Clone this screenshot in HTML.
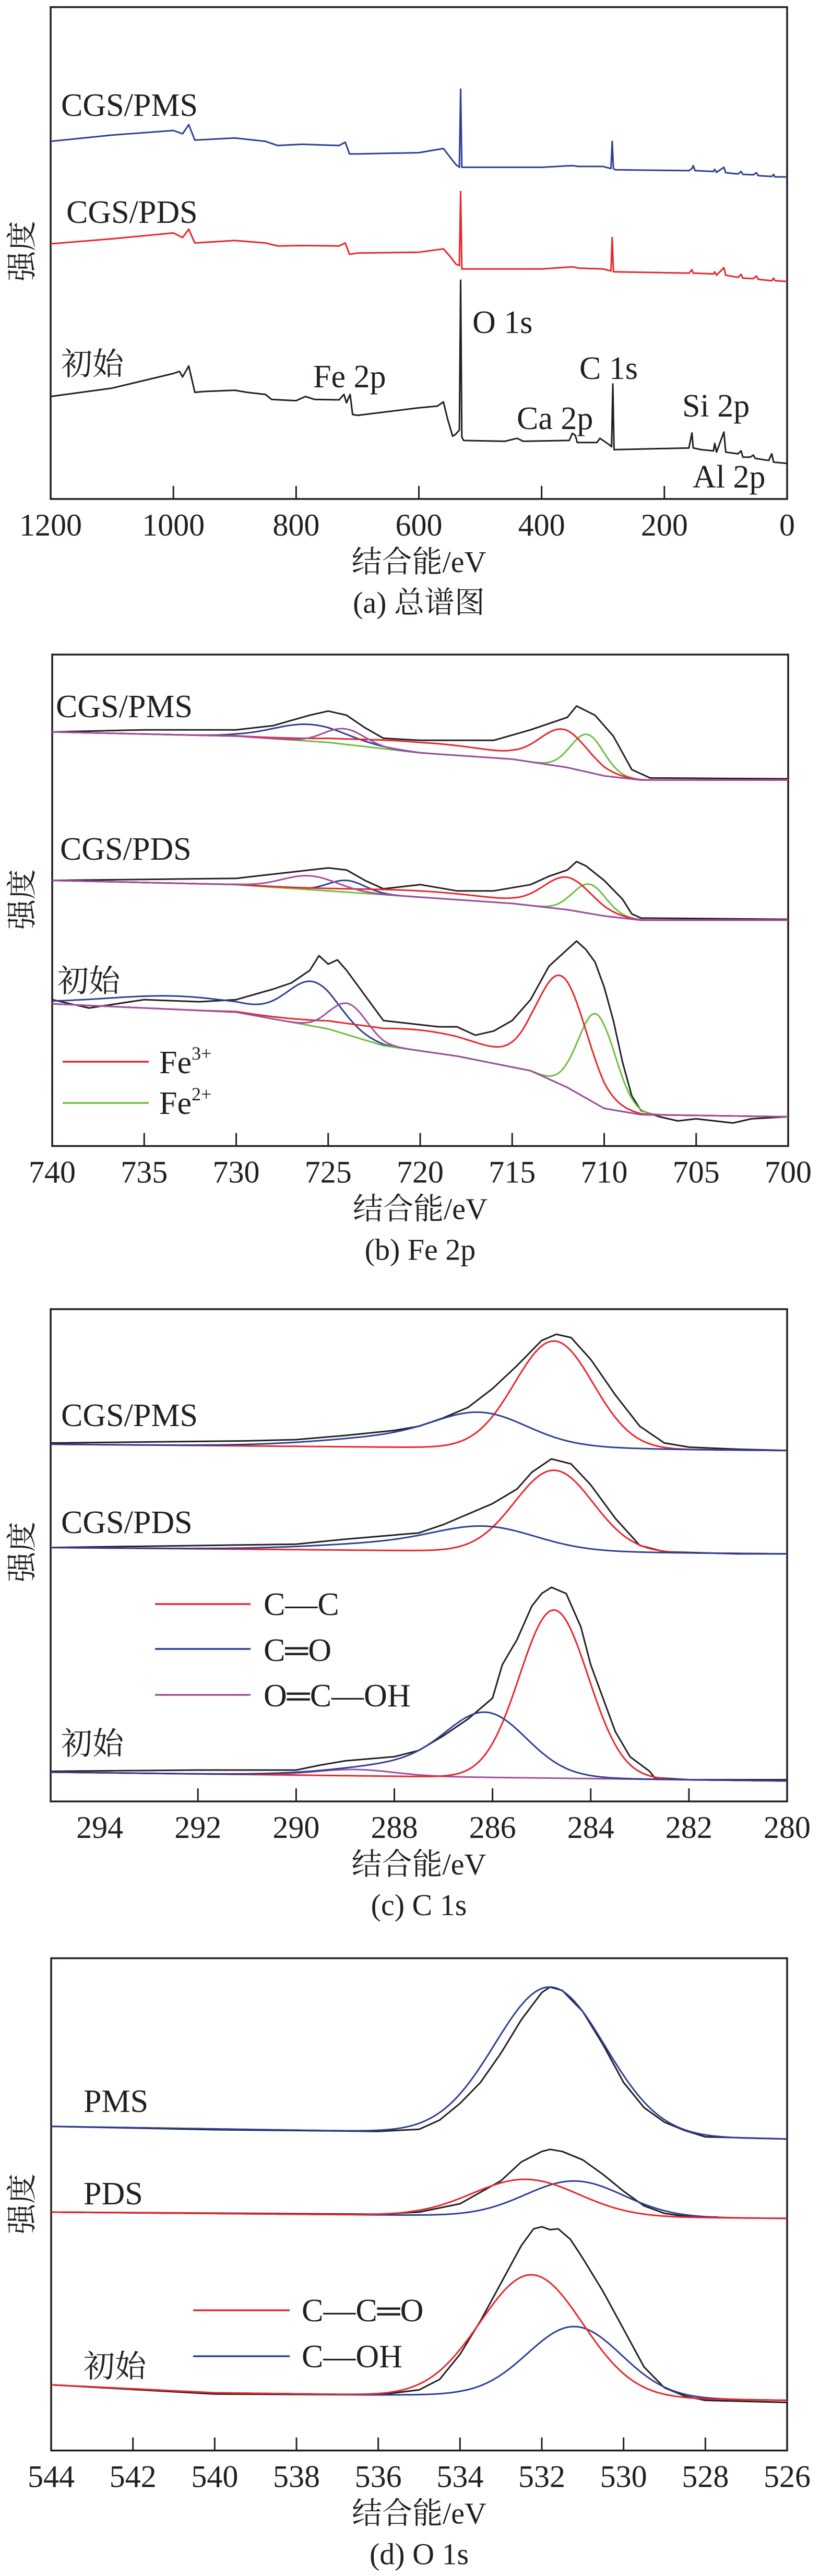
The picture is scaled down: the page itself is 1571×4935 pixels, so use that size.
<!DOCTYPE html>
<html><head><meta charset="utf-8">
<style>
html,body{margin:0;padding:0;background:#fff;}
svg{display:block;}
text{font-family:"Liberation Serif","Noto Serif CJK SC",serif;fill:#231f20;}
</style></head>
<body>
<svg id="fig" width="1571" height="4935" viewBox="0 0 1571 4935" xmlns="http://www.w3.org/2000/svg"></svg>
<script>
// ---------- Panel (a) survey data: [binding energy eV, intensity] ----------
const surveyPMS=[[1200,855],[1100,870],[1000,881],[985,873],[975,895],[965,858],[900,863],[850,855],[830,845],[790,848],[730,845],[720,853],[713,825],[700,825],[600,828],[560,838],[548,815],[540,800],[534,793],[532,980],[530,793],[528,793],[400,793],[350,797],[340,795],[300,795],[287,790],[285,855],[283,790],[280,787],[160,785],[155,790],[153,797],[150,785],[120,783],[118,788],[115,781],[103,793],[100,780],[80,777],[75,783],[72,776],[55,775],[50,780],[47,773],[25,771],[22,776],[20,770],[0,770]];
const surveyPDS=[[1200,610],[1100,622],[1000,636],[985,625],[975,645],[965,612],[900,618],[850,612],[830,605],[790,606],[730,605],[720,612],[713,585],[700,588],[600,590],[560,598],[548,578],[540,562],[534,558],[532,735],[530,550],[528,550],[400,550],[350,555],[340,552],[300,550],[287,545],[285,625],[283,543],[280,543],[160,540],[155,548],[153,540],[120,538],[118,543],[115,535],[103,553],[100,535],[80,530],[75,537],[72,528],[55,527],[50,533],[47,525],[25,522],[22,528],[20,522],[0,520]];
const surveyInit=[[1200,245],[1100,265],[1000,300],[990,305],[985,292],[975,318],[965,255],[950,257],[900,260],[880,255],[850,250],[840,238],[800,235],[785,245],[770,238],[730,237],[722,250],[718,230],[712,250],[708,202],[700,200],[600,218],[570,222],[560,232],[553,190],[545,150],[540,155],[534,165],[532,523],[530,148],[527,140],[460,138],[440,145],[430,138],[355,140],[350,157],[345,152],[342,135],[310,135],[305,145],[290,130],[286,125],[284,275],[282,118],[280,118],[160,122],[155,158],[153,122],[140,118],[120,115],[118,133],[115,112],[103,160],[100,112],[80,108],[75,115],[72,100],[60,100],[55,105],[52,97],[30,92],[25,108],[22,88],[0,85]];
const ticksA=[1200,1000,800,600,400,200,0];

// ---------- Panel (b) Fe 2p ----------
const feBlackPMS=[[740,990],[735,995],[730,995],[728,1005],[726,1030],[725,1040],[724,1030],[723,1000],[722,975],[720,970],[716,970],[714,995],[712,1025],[711.5,1052],[710.5,1030],[709.5,980],[708.5,900],[707.5,880],[700,878]];
const feBgPMS=[[740,990],[730,980],[725,965],[720,940],[715,925],[712,905],[710,885],[708,875],[700,875]];
const feBlackPDS=[[740,635],[730,640],[727,655],[725,665],[724,660],[723,635],[722,615],[720,625],[718,610],[716,610],[714,625],[713,645],[712,660],[711.5,680],[711,670],[710,635],[709,590],[708.5,555],[708,545],[700,542]];
const feBgPDS=[[740,635],[730,625],[725,610],[720,595],[715,580],[712,565],[710,550],[708,540],[700,540]];
const feBlackInit=[[740,350],[738,330],[735,350],[732,345],[730,350],[728,375],[727,390],[726,420],[725.5,455],[725,435],[724.5,445],[724,420],[723.5,390],[723,360],[722.5,330],[722,300],[721,295],[720,290],[719,285],[718,285],[717,265],[716,275],[715,300],[714,350],[713.5,390],[713,430],[712.5,450],[712,470],[711.5,490],[711,470],[710.5,440],[710,380],[709.5,300],[709,200],[708.5,120],[708,85],[707,70],[706,60],[705,65],[703,55],[702,65],[700,70]];
const feBgInit=[[740,340],[730,320],[725,280],[722,240],[718,215],[714,180],[712,140],[710,90],[708,75],[700,70]];
// peaks: [center eV, amplitude, sigma]
const fe3PMS=[[712.2,85,1.3],[719.5,25,4]], fe2PMS=[[710.9,90,0.9]], feBluePMS=[[726,40,2]], fePurpPMS=[[724.1,37,1.1]];
const fe3PDS=[[712,75,1.3],[719.5,15,4]], fe2PDS=[[710.8,70,0.9]], feBluePDS=[[724,28,1.0]], fePurpPDS=[[726,33,1.5]];
const fe3Init=[[712.3,250,1.35],[719.5,50,4]], fe2Init=[[710.4,215,1.0]], feBlueInit=[[725.8,100,1.4],[733,32,4]], fePurpInit=[[723.9,75,1.0]];
const ticksB=[740,735,730,725,720,715,710,705,700];

// ---------- Panel (c) C 1s ----------
const cBlackPMS=[[295,857],[291,862],[290,865],[289,875],[288,887],[287.5,897],[287,917],[286.5,942],[286,987],[285.5,1042],[285,1102],[284.7,1117],[284.4,1109],[284,1057],[283.5,972],[283,897],[282.5,857],[282,847],[281,842],[280,839]];
const cBgPMS=[[295,854],[280,839]];
const cBlackPDS=[[295,607],[290,615],[289,627],[288,637],[287.5,642],[287,662],[286.5,687],[286,712],[285.5,747],[285.2,787],[284.8,819],[284.4,807],[284,757],[283.5,677],[283,612],[282.5,597],[281,592],[280,592]];
const cBgPDS=[[295,607],[280,592]];
const cBlackInit=[[295,72],[292,75],[290,75],[289.5,87],[289,97],[288,107],[287.5,122],[287,157],[286.5,197],[286,247],[285.8,327],[285.5,387],[285.2,467],[285,497],[284.8,512],[284.5,497],[284.2,417],[284,327],[283.5,167],[283.2,107],[282.8,72],[282.7,57],[282,52],[280,52]];
const cBgInit=[[295,70],[280,49]];
const ccPMS=[[284.75,257,0.8]], coPMS=[[286.2,60,0.9],[287.3,30,1.8]];
const ccPDS=[[284.75,195,0.8]], coPDS=[[286.1,45,1.0],[287.5,20,1.8]];
const ccInit=[[284.75,402,0.7]], coInit=[[286.1,130,0.8],[287.3,35,1.5]], oocInit=[[288.8,15,0.8]];
const ticksC=[294,292,290,288,286,284,282,280];

// ---------- Panel (d) O 1s ----------
const oBlackPMS=[[544,775],[540,767],[536,763],[535,768],[534.5,790],[534,830],[533.5,880],[533,950],[532.5,1030],[532,1095],[531.8,1108],[531.5,1100],[531,1050],[530.5,970],[530,880],[529.5,820],[529,785],[528.5,765],[528,750],[526,745]];
const oBgPMS=[[544,775],[536,763],[528,748],[526,745]];
const oBlackPDS=[[544,570],[536,565],[535,570],[534,590],[533,645],[532.5,690],[532,715],[531.8,720],[531.5,715],[531,695],[530.5,660],[530,620],[529.5,585],[529,567],[528.5,560],[527.7,558]];
const oBgPDS=[[544,570],[526,555]];
const oBlackInit=[[544,157],[540,135],[536,133],[535,145],[534.5,170],[534,230],[533.5,310],[533,400],[532.5,490],[532.2,530],[532,535],[531.8,528],[531.6,530],[531.3,505],[531,460],[530.5,380],[530,290],[529.5,200],[529,150],[528.5,130],[528,120],[526,115]];
const oBgInit=[[544,157],[540,138],[536,133],[534,133],[528,123],[526,120]];
const ohPMS=[[531.8,353,1.35]];
const ccoPDS=[[532.4,88,1.3]], ohPDS=[[531.2,85,1.2]];
const ccoInit=[[532.25,290,1.25]], ohInit=[[531.2,168,1.15]];
const ticksD=[544,542,540,538,536,534,532,530,528,526];

const C={k:'#231f20',r:'#e8262a',b:'#2e3f96',g:'#6bbf3f',p:'#a04fa0'};
const NS='http://www.w3.org/2000/svg';
const svg=document.getElementById('fig');
function mk(tag,attrs,parent){const e=document.createElementNS(NS,tag);for(const k in attrs)e.setAttribute(k,attrs[k]);(parent||svg).appendChild(e);return e;}

function makeAxes(p){
  p.x=v=>p.x0+(p.emax-v)/(p.emax-p.emin)*(p.x1-p.x0);
  p.y=v=>p.off+(p.zb-v)/1.248;
  return p;
}
function interp(arr,e){
  for(let i=0;i<arr.length-1;i++){const a=arr[i],b=arr[i+1];const lo=Math.min(a[0],b[0]),hi=Math.max(a[0],b[0]);
    if(e>=lo&&e<=hi){const t=(e-a[0])/(b[0]-a[0]||1);return a[1]+t*(b[1]-a[1]);}}
  return e>Math.max(arr[0][0],arr[arr.length-1][0])?(arr[0][0]>arr[arr.length-1][0]?arr[0][1]:arr[arr.length-1][1]):(arr[0][0]<arr[arr.length-1][0]?arr[0][1]:arr[arr.length-1][1]);
}
function lineFromPoints(p,pts,color,name,w){
  const d=pts.map((q,i)=>(i?'L':'M')+p.x(q[0]).toFixed(1)+','+p.y(q[1]).toFixed(1)).join('');
  const el=mk('path',{d:d,fill:'none',stroke:color,'stroke-width':w||3,'stroke-linejoin':'round'},p.g);
  
  
  return el;
}
function component(p,bg,peaks,color,name,emin,emax){
  const pts=[];const lo=emin!==undefined?emin:p.emin,hi=emax!==undefined?emax:p.emax;
  const step=(p.emax-p.emin)/700;
  for(let e=hi;e>=lo-1e-9;e-=step){let v=interp(bg,e);for(const pk of peaks)v+=pk[1]*Math.exp(-Math.pow(e-pk[0],2)/(2*pk[2]*pk[2]));pts.push([e,v]);}
  return lineFromPoints(p,pts,color,name,3);
}
function txt(p,x,y,s,size,name,anchor){
  const t=mk('text',{x:x,y:y,'font-size':size,'text-anchor':anchor||'start'},p.g);
  t.textContent=s;
  
  
  return t;
}
function frame(p,ticks,tickFmt,caption,ylabelY){
  const top=p.off+p.zt/1.248,bot=p.off+p.zb/1.248;
  const r=mk('rect',{x:p.x0,y:top,width:p.x1-p.x0,height:bot-top,fill:'none',stroke:C.k,'stroke-width':3.5},p.g);
  
  
  ticks.forEach((t,i)=>{
    const X=p.x(t);
    if(i>0&&i<ticks.length-1){const l=mk('line',{x1:X,x2:X,y1:bot,y2:bot-25,stroke:C.k,'stroke-width':3},p.g);
      
      }
    txt(p,X,bot+70,tickFmt(t),60,'x-tick-label','middle');
  });
  txt(p,(p.x0+p.x1)/2,bot+140,'结合能/eV',58,'x-axis-title','middle');
  txt(p,(p.x0+p.x1)/2,bot+218,caption,58,'panel-caption','middle');
  const yl=txt(p,0,0,'强度',58,'y-axis-title','middle');
  yl.setAttribute('transform','translate(62,'+ylabelY+') rotate(-90)');
}
function group(name){const g=mk('g',{});return g;}

// ===== Panel a =====
const pa=makeAxes({g:group('panel-a-survey'),off:0,zt:17,zb:1193,x0:97,x1:1508,emax:1200,emin:0});
frame(pa,ticksA,String,'(a) 总谱图',481);
lineFromPoints(pa,surveyPMS,C.b,'survey-cgs-pms-line',3);
lineFromPoints(pa,surveyPDS,C.r,'survey-cgs-pds-line',3);
lineFromPoints(pa,surveyInit,C.k,'survey-initial-line',3);
txt(pa,117,222,'CGS/PMS',62,'label-cgs-pms');
txt(pa,127,427,'CGS/PDS',62,'label-cgs-pds');
txt(pa,117,718,'初始',60,'label-initial');
txt(pa,905,638,'O 1s',62,'peak-label-o1s');
txt(pa,600,742,'Fe 2p',62,'peak-label-fe2p');
txt(pa,1110,726,'C 1s',62,'peak-label-c1s');
txt(pa,990,822,'Ca 2p',62,'peak-label-ca2p');
txt(pa,1307,798,'Si 2p',62,'peak-label-si2p');
txt(pa,1327,934,'Al 2p',62,'peak-label-al2p');

// ===== Panel b =====
const pb=makeAxes({g:group('panel-b-fe2p'),off:1250,zt:5,zb:1180,x0:100,x1:1510,emax:740,emin:700});
frame(pb,ticksB,String,'(b) Fe 2p',1723);
[[feBgPMS,fe3PMS,fe2PMS,feBluePMS,fePurpPMS,feBlackPMS,'pms'],[feBgPDS,fe3PDS,fe2PDS,feBluePDS,fePurpPDS,feBlackPDS,'pds'],[feBgInit,fe3Init,fe2Init,feBlueInit,fePurpInit,feBlackInit,'initial']].forEach(s=>{
  lineFromPoints(pb,s[5],C.k,'fe-raw-'+s[6],3);
  component(pb,s[0],s[3],C.b,'fe-blue-fit-'+s[6]);
  component(pb,s[0],s[2],C.g,'fe2-fit-'+s[6]);
  component(pb,s[0],s[1],C.r,'fe3-fit-'+s[6]);
  component(pb,s[0],s[4],C.p,'fe-purple-fit-'+s[6]);
});
txt(pb,107,1374,'CGS/PMS',62,'label-cgs-pms');
txt(pb,115,1647,'CGS/PDS',62,'label-cgs-pds');
txt(pb,110,1900,'初始',60,'label-initial');
{const l1=mk('line',{x1:120,x2:285,y1:2034,y2:2034,stroke:C.r,'stroke-width':3.5},pb.g);


const l2=mk('line',{x1:120,x2:285,y1:2113,y2:2113,stroke:C.g,'stroke-width':3.5},pb.g);


const t1=txt(pb,305,2056,'Fe',62,'legend-fe3-label');const s1=mk('tspan',{'font-size':36,dy:-26},t1);s1.textContent='3+';
const t2=txt(pb,305,2134,'Fe',62,'legend-fe2-label');const s2=mk('tspan',{'font-size':36,dy:-26},t2);s2.textContent='2+';}

// ===== Panel c =====
const pc=makeAxes({g:group('panel-c-c1s'),off:2500,zt:10,zb:1187,x0:97,x1:1508,emax:295,emin:280});
frame(pc,ticksC,String,'(c) C 1s',2973);
[[cBgPMS,ccPMS,coPMS,null,cBlackPMS,'pms'],[cBgPDS,ccPDS,coPDS,null,cBlackPDS,'pds'],[cBgInit,ccInit,coInit,oocInit,cBlackInit,'initial']].forEach(s=>{
  lineFromPoints(pc,s[4],C.k,'c-raw-'+s[5],3);
  if(s[3])component(pc,s[0],s[3],C.p,'c-oocoh-fit-'+s[5]);
  component(pc,s[0],s[1],C.r,'c-cc-fit-'+s[5]);
  component(pc,s[0],s[2],C.b,'c-co-fit-'+s[5]);
});
txt(pc,117,2732,'CGS/PMS',62,'label-cgs-pms');
txt(pc,117,2937,'CGS/PDS',62,'label-cgs-pds');
txt(pc,117,3361,'初始',60,'label-initial');
[[3073,C.r,'C—C',3094,'legend-cc'],[3159,C.b,'C═O',3182,'legend-co'],[3247,C.p,'O═C—OH',3269,'legend-oocoh']].forEach(L=>{
  const l=mk('line',{x1:297,x2:480,y1:L[0],y2:L[0],stroke:L[1],'stroke-width':3.5},pc.g);
  
  
  txt(pc,505,L[3],L[2],62,L[4]+'-label');
});

// ===== Panel d =====
const pd=makeAxes({g:group('panel-d-o1s'),off:3685,zt:83,zb:1260,x0:98,x1:1508,emax:544,emin:526});
frame(pd,ticksD,String,'(d) O 1s',4222);
lineFromPoints(pd,oBlackPMS,C.k,'o-raw-pms',3);
component(pd,oBgPMS,ohPMS,C.b,'o-fit-pms');
lineFromPoints(pd,oBlackPDS,C.k,'o-raw-pds',3);
component(pd,oBgPDS,ohPDS,C.b,'o-coh-fit-pds');
component(pd,oBgPDS,ccoPDS,C.r,'o-cco-fit-pds');
lineFromPoints(pd,oBlackInit,C.k,'o-raw-initial',3);
component(pd,oBgInit,ohInit,C.b,'o-coh-fit-initial');
component(pd,oBgInit,ccoInit,C.r,'o-cco-fit-initial');
txt(pd,160,4046,'PMS',62,'label-pms');
txt(pd,160,4223,'PDS',62,'label-pds');
txt(pd,160,4554,'初始',60,'label-initial');
[[4426,C.r,'C—C═O',4447,'legend-cco'],[4514,C.b,'C—OH',4535,'legend-coh']].forEach(L=>{
  const l=mk('line',{x1:370,x2:555,y1:L[0],y2:L[0],stroke:L[1],'stroke-width':3.5},pd.g);
  
  
  txt(pd,578,L[3],L[2],62,L[4]+'-label');
});
</script>
</body></html>
